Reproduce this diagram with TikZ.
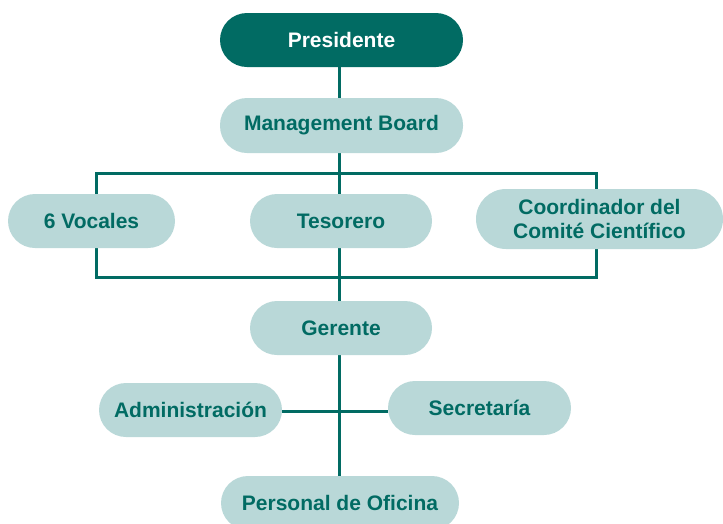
\documentclass[tikz,border=0pt]{standalone}
\usepackage{fontspec}
\setmainfont{Liberation Sans}
\usetikzlibrary{backgrounds}
\definecolor{teal1}{HTML}{016B63}
\definecolor{teallight}{HTML}{B9D8D8}
\tikzset{
  box/.style={rectangle, rounded corners=27pt, fill=teallight, text=teal1,
    font=\fontsize{21}{24}\selectfont\bfseries, minimum height=54pt, inner sep=0pt, align=center},
  topbox/.style={box, fill=teal1, text=white},
  link/.style={draw=teal1, line width=3pt}
}
\begin{document}
\begin{tikzpicture}[x=1pt,y=-1pt]
\useasboundingbox (0,0) rectangle (723,523);
\coordinate (spine) at (339,0);
\node[topbox, minimum width=243pt] (pres) at (341.5,40) {Presidente};
\node[box, minimum width=243pt, minimum height=55pt] (mb) at (341.5,125.5) {Management Board};
\node[box, minimum width=167pt] (voc) at (91.5,221) {6 Vocales};
\node[box, minimum width=182pt] (tes) at (341,221) {Tesorero};
\node[box, minimum width=247pt, minimum height=60pt, rounded corners=30pt] (coord) at (599.5,219) {Coordinador del\\Comité Científico};
\node[box, minimum width=182pt] (ger) at (341,328) {Gerente};
\node[box, minimum width=183pt] (adm) at (190.5,410) {Administración};
\node[box, minimum width=183pt] (sec) at (479.5,408) {Secretaría};
\node[box, minimum width=238pt] (pers) at (340,503) {Personal de Oficina};
\coordinate (ftl) at (96,173);
\coordinate (fbr) at (596,277);
\coordinate (hl) at (0,411);
\begin{scope}[on background layer]
  \draw[link] (pres.south -| spine) -- (mb.north -| spine);
  \draw[link] (mb.south -| spine) -- (ger.north -| spine);
  \draw[link] (ftl) rectangle (fbr);
  \draw[link] (ger.south -| spine) -- (pers.north -| spine);
  \draw[link] (adm.east |- hl) -- (sec.west |- hl);
\end{scope}
\end{tikzpicture}
\end{document}
